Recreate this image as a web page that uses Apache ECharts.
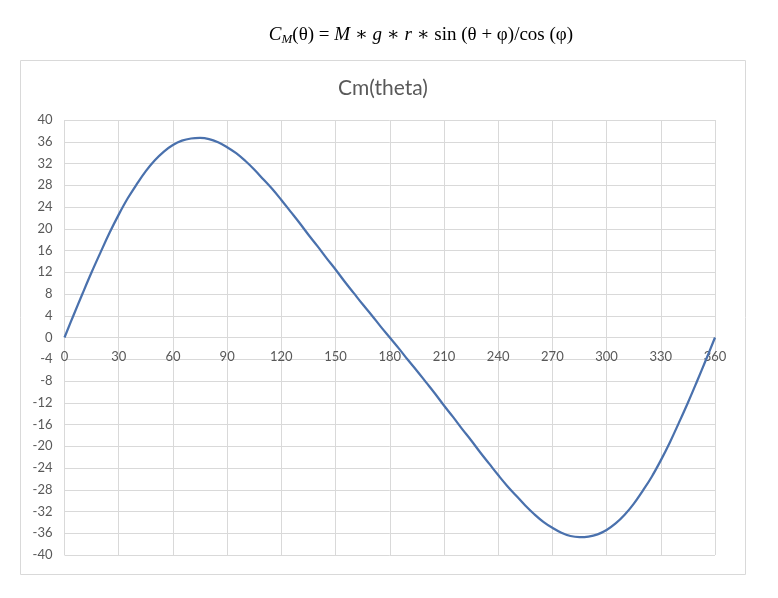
<!DOCTYPE html>
<html>
<head>
<meta charset="utf-8">
<script src="https://cdn.jsdelivr.net/npm/echarts@6/dist/echarts.min.js"></script>
<style>html,body{margin:0;padding:0;background:#fff}#c{width:778px;height:598px}</style>
</head>
<body>
<div id="c"></div>
<script>
const chartTitle = 'Cm(theta)';
const thetas = [0,5,10,15,20,25,30,35,40,45,50,55,60,65,70,75,80,85,90,95,100,105,110,115,120,125,130,135,140,145,150,155,160,165,170,175,180,
  185,190,195,200,205,210,215,220,225,230,235,240,245,250,255,260,265,270,275,280,285,290,295,300,305,310,315,320,325,330,335,340,345,350,355,360];
const cm = [0,4.1,8.1,12.0,15.7,19.3,22.6,25.6,28.2,30.6,32.6,34.2,35.4,36.2,36.6,36.7,36.5,35.9,35.0,33.9,32.5,30.9,29.1,27.3,25.3,23.2,21.1,18.9,16.8,14.6,12.5,10.3,8.2,6.1,4.1,2.0,0,
  -2.0,-4.1,-6.1,-8.2,-10.3,-12.5,-14.6,-16.8,-18.9,-21.1,-23.2,-25.3,-27.3,-29.1,-30.9,-32.5,-33.9,-35.0,-35.9,-36.5,-36.7,-36.6,-36.2,-35.4,-34.2,-32.6,-30.6,-28.2,-25.6,-22.6,-19.3,-15.7,-12.0,-8.1,-4.1,0];

const chart = echarts.init(document.getElementById('c'));
const labelFont = 'Lato, "Open Sans", sans-serif';
const serif = '"Liberation Serif", "DejaVu Serif", serif';
chart.setOption({
  animation: false,
  graphic: [
    {type: 'rect', shape: {x: 20.5, y: 60.5, width: 725, height: 514},
     style: {fill: 'none', stroke: '#d9d9d9', lineWidth: 1}, silent: true},
    {type: 'text', x: 383, y: 88, silent: true,
     style: {text: chartTitle, fill: '#595959', fontSize: 21, fontFamily: labelFont,
             textAlign: 'center', textVerticalAlign: 'middle'}},
    {type: 'text', x: 421, y: 35, silent: true,
     style: {
       text: '{i|C}{s|M}{n|(θ) = }{i|M}{n| ∗ }{i|g}{n| ∗ }{i|r}{n| ∗ sin (θ + φ)/cos (φ)}',
       textAlign: 'center', textVerticalAlign: 'middle',
       rich: {
         i: {fontFamily: serif, fontStyle: 'italic', fontSize: 19, fill: '#000'},
         s: {fontFamily: serif, fontStyle: 'italic', fontSize: 13, fill: '#000', padding: [9,0,0,0]},
         n: {fontFamily: serif, fontSize: 19, fill: '#000'}
       }
     }}
  ],
  grid: {left: 64.5, right: 63, top: 120, bottom: 43, containLabel: false},
  xAxis: {
    type: 'value', min: 0, max: 360, interval: 30,
    position: 'bottom', offset: -217.5,
    axisLine: {onZero: false, lineStyle: {color: '#d9d9d9', width: 1}},
    axisTick: {show: false},
    axisLabel: {color: '#595959', fontSize: 13, fontFamily: labelFont, margin: 13},
    splitLine: {show: true, lineStyle: {color: '#d9d9d9', width: 1}}
  },
  yAxis: {
    type: 'value', min: -40, max: 40, interval: 4,
    axisLine: {show: false},
    axisTick: {show: false},
    axisLabel: {color: '#595959', fontSize: 13, fontFamily: labelFont, margin: 12},
    splitLine: {show: true, lineStyle: {color: '#d9d9d9', width: 1}}
  },
  series: [{
    type: 'line', smooth: 0.4, symbol: 'none',
    data: thetas.map((t, i) => [t, cm[i]]),
    lineStyle: {color: '#4a71ad', width: 2.25}
  }]
});
</script>
</body>
</html>
